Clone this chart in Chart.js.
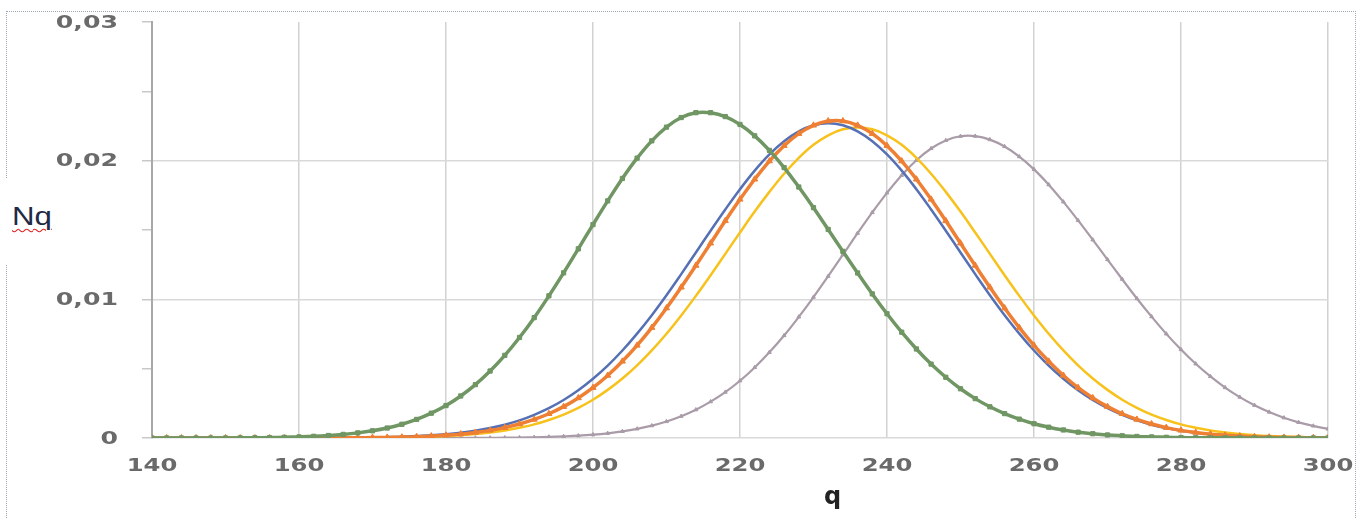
<!DOCTYPE html>
<html>
<head>
<meta charset="utf-8">
<script src="https://cdn.jsdelivr.net/npm/chart.js@4.4.1/dist/chart.umd.min.js"></script>
<style>
    html, body { margin: 0; padding: 0; background: #fff; }
    #wrap { position: relative; width: 1363px; height: 518px; overflow: hidden; }
    #frame { position: absolute; left: 6px; top: 11px; width: 1348px; height: 520px;
             border-top: 1px dotted #9aa8b8; border-left: 1px dotted #9aa8b8; border-right: 1px dotted #9aa8b8; }
    #nq { position: absolute; left: 0; top: 178px; width: 62px; height: 86px; background: #fff;
          font: 26px "Liberation Sans", Arial, sans-serif; color: #1f2a44; }
    #nq span { position: absolute; left: 12px; top: 23px; display: inline-block;
               transform: scaleX(1.2); transform-origin: left top;
               text-decoration: underline wavy #e02020; text-decoration-thickness: 1px; text-underline-offset: 3px; }
    #qtitle { position: absolute; left: 824px; top: 482px; font: bold 24px "DejaVu Sans", sans-serif; color: #222; }
    canvas { position: absolute; left: 0; top: 0; }
</style>
</head>
<body>
<div id="wrap">
    <div id="frame"></div>
    <canvas id="chart" width="1363" height="518"></canvas>
    <div id="nq"><span>Nq</span></div>
    <div id="qtitle">q</div>
</div>
<script>
// q values (every 2 units)
const qValues = [
    140,142,144,146,148,150,152,154,156,158,
    160,162,164,166,168,170,172,174,176,178,
    180,182,184,186,188,190,192,194,196,198,
    200,202,204,206,208,210,212,214,216,218,
    220,222,224,226,228,230,232,234,236,238,
    240,242,244,246,248,250,252,254,256,258,
    260,262,264,266,268,270,272,274,276,278,
    280,282,284,286,288,290,292,294,296,298,
    300
];

const nqGreen = [
    0,0,0,0,0,0,0.00001,0.00002,0.00003,0.00005,
    0.00008,0.00012,0.00018,0.00026,0.00037,0.00052,0.00072,0.00099,0.00134,0.00179,
    0.00234,0.00303,0.00385,0.00483,0.00596,0.00725,0.00868,0.01025,0.01191,0.01364,
    0.01539,0.01710,0.01872,0.02018,0.02143,0.02242,0.02311,0.02346,0.02346,0.02318,
    0.02261,0.02179,0.02074,0.01950,0.01810,0.01661,0.01504,0.01346,0.01190,0.01039,
    0.00896,0.00763,0.00642,0.00533,0.00438,0.00355,0.00284,0.00225,0.00176,0.00136,
    0.00103,0.00078,0.00058,0.00042,0.00031,0.00022,0.00016,0.00011,0.00008,0.00005,
    0.00003,0.00002,0.00002,0.00001,0.00001,0,0,0,0,0,
    0
];

const nqBlue = [
    0,0,0,0,0,0,0,0,0,0,
    0,0.00001,0.00001,0.00002,0.00003,0.00004,0.00006,0.00009,0.00014,0.00019,
    0.00027,0.00038,0.00053,0.00072,0.00096,0.00127,0.00167,0.00215,0.00274,0.00344,
    0.00427,0.00522,0.00631,0.00753,0.00886,0.01030,0.01182,0.01338,0.01495,0.01648,
    0.01794,0.01928,0.02045,0.02140,0.02211,0.02255,0.0227,0.02255,0.02211,0.02140,
    0.02045,0.01928,0.01794,0.01648,0.01495,0.01338,0.01182,0.01030,0.00886,0.00753,
    0.00631,0.00522,0.00427,0.00344,0.00274,0.00215,0.00167,0.00127,0.00096,0.00072,
    0.00053,0.00038,0.00027,0.00019,0.00014,0.00009,0.00006,0.00004,0.00003,0.00002,
    0.00001
];

const nqOrange = [
    0,0,0,0,0,0,0,0,0,0,
    0,0,0,0.00001,0.00002,0.00003,0.00004,0.00006,0.00009,0.00014,
    0.00020,0.00028,0.00040,0.00055,0.00075,0.00101,0.00134,0.00175,0.00226,0.00289,
    0.00363,0.00451,0.00553,0.00668,0.00796,0.00937,0.01087,0.01244,0.01405,0.01566,
    0.01721,0.01866,0.01997,0.02108,0.02195,0.02255,0.02286,0.02286,0.02255,0.02195,
    0.02108,0.01997,0.01866,0.01721,0.01566,0.01405,0.01244,0.01087,0.00937,0.00796,
    0.00668,0.00553,0.00451,0.00363,0.00289,0.00226,0.00175,0.00134,0.00101,0.00075,
    0.00055,0.00040,0.00028,0.00020,0.00014,0.00009,0.00006,0.00004,0.00003,0.00002,
    0.00001
];

const nqYellow = [
    0,0,0,0,0,0,0,0,0,0,
    0,0,0,0.00001,0.00001,0.00002,0.00003,0.00005,0.00007,0.00010,
    0.00014,0.00020,0.00028,0.00040,0.00054,0.00074,0.00098,0.00130,0.00169,0.00218,
    0.00276,0.00347,0.00429,0.00524,0.00632,0.00752,0.00884,0.01025,0.01174,0.01328,
    0.01482,0.01633,0.01775,0.01906,0.02020,0.02114,0.02183,0.02226,0.0224,0.02226,
    0.02183,0.02114,0.02020,0.01906,0.01775,0.01633,0.01482,0.01328,0.01174,0.01025,
    0.00884,0.00752,0.00632,0.00524,0.00429,0.00347,0.00276,0.00218,0.00169,0.00130,
    0.00098,0.00074,0.00054,0.00040,0.00028,0.00020,0.00014,0.00010,0.00007,0.00005,
    0.00003
];

const nqGray = [
    0,0,0,0,0,0,0,0,0,0,
    0,0,0,0,0,0,0,0,0,0,
    0,0,0.00001,0.00001,0.00002,0.00003,0.00005,0.00008,0.00012,0.00017,
    0.00024,0.00034,0.00048,0.00066,0.00089,0.00119,0.00157,0.00204,0.00262,0.00331,
    0.00413,0.00509,0.00618,0.00739,0.00873,0.01016,0.01167,0.01322,0.01477,0.01627,
    0.01768,0.01895,0.02003,0.02088,0.02146,0.02176,0.02177,0.02152,0.02102,0.02029,
    0.01937,0.01827,0.01703,0.01569,0.01429,0.01287,0.01145,0.01006,0.00875,0.00751,
    0.00638,0.00535,0.00444,0.00364,0.00295,0.00236,0.00187,0.00146,0.00113,0.00087,
    0.00065
];

const qTicks = [140, 160, 180, 200, 220, 240, 260, 280, 300];
const nqTicks = [0, 0.01, 0.02, 0.03];
const nqTickLabels = ['0', '0,01', '0,02', '0,03'];

const toPoints = (vals) => qValues.map((q, i) => ({ x: q, y: vals[i] }));

const series = (vals, color, width, style, radius) => ({
    data: toPoints(vals),
    borderColor: color,
    backgroundColor: color,
    borderWidth: width,
    pointStyle: style,
    pointRadius: radius,
    pointBorderWidth: 1,
    pointBackgroundColor: color,
    pointBorderColor: color,
    tension: 0.4,
    fill: false
});

// draws the bold, wide tick labels (the original looks horizontally stretched)
const wideLabels = {
    id: 'wideLabels',
    afterDraw(chart) {
        const ctx = chart.ctx;
        const xs = chart.scales.x, ys = chart.scales.y;
        ctx.save();
        ctx.font = 'bold 18px "DejaVu Sans"';
        ctx.fillStyle = '#6a6a6a';
        ctx.textBaseline = 'middle';
        qTicks.forEach(v => {
            ctx.save();
            ctx.translate(xs.getPixelForValue(v), 466);
            ctx.scale(1.35, 1);
            ctx.textAlign = 'center';
            ctx.fillText(String(v), 0, 0);
            ctx.restore();
        });
        nqTicks.forEach((v, i) => {
            ctx.save();
            ctx.translate(118, ys.getPixelForValue(v) + 1);
            ctx.scale(1.4, 1);
            ctx.textAlign = 'right';
            ctx.fillText(nqTickLabels[i], 0, 0);
            ctx.restore();
        });
        ctx.restore();
    }
};

new Chart(document.getElementById('chart'), {
    type: 'line',
    data: {
        datasets: [
            series(nqGreen, '#6f9663', 3.5, 'rect', 3),
            series(nqOrange, '#ee7f33', 3.5, 'triangle', 3.5),
            series(nqBlue, '#5670b4', 2.5, false, 0),
            series(nqYellow, '#f7c21c', 2.5, false, 0),
            series(nqGray, '#a99ca8', 2.2, 'triangle', 2.2)
        ]
    },
    plugins: [wideLabels],
    options: {
        responsive: false,
        animation: false,
        events: [],
        layout: { padding: { left: 0, top: 22, right: 35, bottom: 0 } },
        plugins: { legend: { display: false }, tooltip: { enabled: false } },
        scales: {
            x: {
                type: 'linear', min: 140, max: 300,
                ticks: { stepSize: 20, display: false },
                grid: { color: '#d2d2d2', lineWidth: 1.5, drawTicks: false },
                border: { display: false },
                afterFit: (s) => { s.height = 80; }
            },
            y: {
                min: 0, max: 0.03,
                ticks: { stepSize: 0.005, display: false },
                grid: {
                    color: (c) => {
                        const k = Math.round(c.tick.value * 1000);
                        return (k % 10 === 0 && k < 30) ? '#d9d9d9' : 'rgba(0,0,0,0)';
                    },
                    lineWidth: 1.5,
                    drawTicks: true,
                    tickLength: 10,
                    tickColor: '#c8c8c8'
                },
                border: { display: true, color: '#a8a8a8', width: 2 },
                afterFit: (s) => { s.width = 152; }
            }
        }
    }
});
</script>
</body>
</html>
